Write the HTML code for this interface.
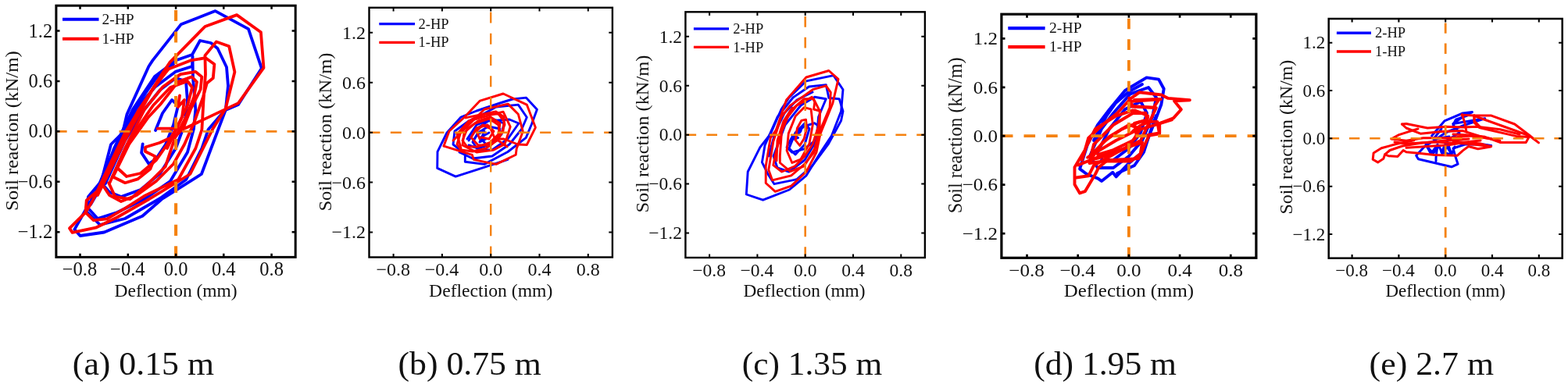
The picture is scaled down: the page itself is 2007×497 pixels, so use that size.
<!DOCTYPE html>
<html lang="en"><head><meta charset="utf-8"><title>Soil reaction vs deflection</title>
<style>html,body{margin:0;padding:0;background:#fff}body{width:2007px;height:497px;overflow:hidden}svg{display:block}text{font-family:"Liberation Serif", "Times New Roman", serif;fill:#111}</style></head><body>
<svg width="2007" height="497" viewBox="0 0 2007 497">
<rect width="2007" height="497" fill="#fff"/>
<g id="panel-a">
<polyline points="95.4,293.9 110.0,268.0 113.0,252.0 129.8,232.0 142.0,185.0 157.0,170.0 162.4,146.6 190.4,85.0 195.4,77.4 231.6,31.3 275.6,14.1 318.0,37.2 334.8,87.4 305.0,134.0 288.7,141.0 279.6,165.0 257.9,223.0 207.2,255.0 182.3,276.7 133.4,297.5 102.6,302.0 95.4,293.9" fill="none" stroke="#0000ff" stroke-width="3.8" stroke-linejoin="round" stroke-linecap="round"/>
<polyline points="110.0,270.0 131.0,232.0 146.0,190.0 170.0,140.0 198.0,98.0 226.0,77.0 246.0,70.0 256.0,52.0 270.0,55.0 278.5,62.0 290.0,86.0 292.0,110.0 288.9,140.0 266.5,166.0 258.4,190.0 238.3,230.0 205.0,254.0 160.0,280.0 128.0,288.0 110.0,270.0" fill="none" stroke="#0000ff" stroke-width="3.8" stroke-linejoin="round" stroke-linecap="round"/>
<polyline points="116.0,262.0 136.0,228.0 152.0,186.0 175.0,138.0 198.8,111.2 224.5,91.9 246.0,85.0 246.5,72.0 247.0,100.0 250.3,140.2 248.0,165.0 240.0,195.0 218.0,232.0 185.0,255.0 150.0,272.0 125.0,280.0 114.0,268.0" fill="none" stroke="#0000ff" stroke-width="3.8" stroke-linejoin="round" stroke-linecap="round"/>
<polyline points="135.0,235.0 160.0,180.0 185.0,140.0 205.0,115.0 225.0,100.0 238.0,104.0 240.0,130.0 236.0,160.0 225.0,190.0 205.0,222.0 180.0,243.0 155.0,252.0 140.0,246.0 133.0,238.0" fill="none" stroke="#0000ff" stroke-width="3.8" stroke-linejoin="round" stroke-linecap="round"/>
<polyline points="182.7,184.3 181.1,195.6 190.7,210.1 200.0,203.0 212.0,185.0 222.0,160.0 228.0,135.0 220.0,128.0 208.0,145.0 199.0,167.0" fill="none" stroke="#0000ff" stroke-width="3.8" stroke-linejoin="round" stroke-linecap="round"/>
<polyline points="111.0,266.0 122.0,248.0 140.0,205.0 160.0,165.0 180.0,128.0 200.0,100.0 222.0,82.0" fill="none" stroke="#0000ff" stroke-width="3.8" stroke-linejoin="round" stroke-linecap="round"/>
<polyline points="201.7,164.7 236.1,164.7 305.0,132.1 337.5,86.8 333.9,41.2 303.1,19.1 262.4,34.0 217.1,80.2 207.2,95.0 160.0,170.0 124.3,245.0 110.7,256.8 109.5,272.2 89.0,292.4 92.6,297.9 122.5,291.7 149.7,278.5 190.9,255.0 243.4,223.0 272.4,165.0 288.7,139.3 300.4,92.2 293.2,59.3 276.9,53.5 262.4,71.1 263.0,95.0 260.4,130.0 258.4,166.0 250.4,190.0 228.2,230.0 185.9,250.4 160.5,266.7 137.0,280.3 119.8,282.1 109.5,272.2" fill="none" stroke="#ff0000" stroke-width="3.8" stroke-linejoin="round" stroke-linecap="round"/>
<polyline points="125.0,250.0 150.0,200.0 170.0,160.0 195.0,115.0 214.9,88.7 243.9,77.4 263.2,74.2 274.4,82.3 272.8,100.0 264.8,106.4 260.0,124.1 248.7,156.3 236.0,185.0 222.0,210.0 200.0,232.0 175.0,250.0 155.0,258.0 140.0,250.0 132.0,238.0" fill="none" stroke="#ff0000" stroke-width="3.8" stroke-linejoin="round" stroke-linecap="round"/>
<polyline points="140.0,235.0 160.0,190.0 185.0,140.0 208.4,111.2 231.0,95.1 250.3,91.9 258.3,98.4 256.7,114.5 243.9,140.2 234.2,165.0 224.5,174.7 211.7,213.3 189.1,235.8 166.6,255.1 147.3,251.9 139.2,234.2" fill="none" stroke="#ff0000" stroke-width="3.8" stroke-linejoin="round" stroke-linecap="round"/>
<polyline points="145.0,226.0 165.0,185.0 190.0,150.0 205.2,133.8 227.8,104.8 245.5,98.4 252.0,105.0 248.0,125.0 238.0,150.0 225.0,175.0 215.0,178.0 204.0,183.0 186.0,188.5 185.9,194.0 198.8,200.4 192.3,216.5 176.2,229.4 160.1,234.2 144.0,226.2" fill="none" stroke="#ff0000" stroke-width="3.8" stroke-linejoin="round" stroke-linecap="round"/>
<polyline points="230.0,122.5 227.8,137.0 236.0,128.0 233.0,150.0 226.0,165.0 214.0,190.0" fill="none" stroke="#ff0000" stroke-width="3.8" stroke-linejoin="round" stroke-linecap="round"/>
<polyline points="150.0,215.0 172.0,170.0 196.0,135.0 218.0,112.0 240.0,104.0 246.0,112.0 240.0,135.0 228.0,160.0 214.0,185.0 200.0,205.0 180.0,222.0 162.0,226.0 150.0,215.0" fill="none" stroke="#ff0000" stroke-width="3.8" stroke-linejoin="round" stroke-linecap="round"/>
<polyline points="109.5,272.2 118.0,258.0 135.0,225.0 155.0,182.0 178.0,140.0 200.0,108.0 216.0,88.0" fill="none" stroke="#ff0000" stroke-width="3.8" stroke-linejoin="round" stroke-linecap="round"/>
<path d="M71.9 168.3 H378.2" stroke="#f5820f" stroke-width="2.7" stroke-dasharray="13.71 13.17" fill="none"/>
<path d="M225.1 329.4 V7.2" stroke="#f5820f" stroke-width="4.1" stroke-dasharray="14.07 13.42" fill="none"/>
<rect x="71.9" y="7.2" width="306.3" height="322.2" fill="none" stroke="#000" stroke-width="3.0"/>
<path d="M102.5 329.4 v-4.6 M102.5 7.2 v4.6 M163.8 329.4 v-4.6 M163.8 7.2 v4.6 M225.1 329.4 v-4.6 M225.1 7.2 v4.6 M286.3 329.4 v-4.6 M286.3 7.2 v4.6 M347.6 329.4 v-4.6 M347.6 7.2 v4.6 M71.9 297.2 h4.6 M378.2 297.2 h-4.6 M71.9 232.7 h4.6 M378.2 232.7 h-4.6 M71.9 168.3 h4.6 M378.2 168.3 h-4.6 M71.9 103.9 h4.6 M378.2 103.9 h-4.6 M71.9 39.4 h4.6 M378.2 39.4 h-4.6" stroke="#000" stroke-width="2.5" fill="none"/>
<text transform="translate(102.0 353.1) scale(1.0 1)" font-size="24.5" text-anchor="middle">−0.8</text>
<text transform="translate(163.3 353.1) scale(1.0 1)" font-size="24.5" text-anchor="middle">−0.4</text>
<text transform="translate(225.1 353.1) scale(1.0 1)" font-size="24.5" text-anchor="middle">0.0</text>
<text transform="translate(286.3 353.1) scale(1.0 1)" font-size="24.5" text-anchor="middle">0.4</text>
<text transform="translate(347.6 353.1) scale(1.0 1)" font-size="24.5" text-anchor="middle">0.8</text>
<text transform="translate(67.2 305.3) scale(1.0 1)" font-size="24.5" text-anchor="end">−1.2</text>
<text transform="translate(67.2 240.8) scale(1.0 1)" font-size="24.5" text-anchor="end">−0.6</text>
<text transform="translate(67.2 176.4) scale(1.0 1)" font-size="24.5" text-anchor="end">0.0</text>
<text transform="translate(67.2 111.9) scale(1.0 1)" font-size="24.5" text-anchor="end">0.6</text>
<text transform="translate(67.2 47.5) scale(1.0 1)" font-size="24.5" text-anchor="end">1.2</text>
<text x="225.1" y="379.8" font-size="24" text-anchor="middle" textLength="157.2" lengthAdjust="spacingAndGlyphs">Deflection (mm)</text>
<text transform="translate(23.4 167.7) rotate(-90) scale(1 1.0)" font-size="24" text-anchor="middle" textLength="204.8" lengthAdjust="spacingAndGlyphs">Soil reaction (kN/m)</text>
<path d="M80.0 24.7 H126.5" stroke="#0000ff" stroke-width="4.1"/>
<path d="M80.0 49.7 H126.5" stroke="#ff0000" stroke-width="4.1"/>
<text transform="translate(130.5 31.1) scale(1.0 1)" font-size="19.5">2-HP</text>
<text transform="translate(130.5 56.1) scale(1.0 1)" font-size="19.5">1-HP</text>
<text x="183.4" y="480.3" font-size="42" text-anchor="middle" textLength="181.1" lengthAdjust="spacingAndGlyphs">(a) 0.15 m</text>
</g>
<g id="panel-b">
<polyline points="650.0,204.3 610.4,217.4 583.2,226.1 559.7,215.4 560.0,194.3 572.0,170.0 590.0,150.0 610.0,142.0 640.0,132.0 656.0,127.0 673.3,125.1 687.4,140.2 680.4,159.3 673.3,176.4 650.0,194.5 620.0,210.4 595.3,207.3 595.3,197.3 580.0,185.0 582.0,168.0 600.0,155.0 615.0,148.0 635.0,137.0 663.3,134.1 674.3,150.2 668.0,165.0 652.0,185.0 630.0,200.0 605.0,203.0 588.0,195.0" fill="none" stroke="#0000ff" stroke-width="2.9" stroke-linejoin="round" stroke-linecap="round"/>
<polyline points="598.0,178.0 610.0,160.0 630.0,152.0 645.0,158.0 642.0,172.0 630.0,184.0 612.0,190.0 600.0,186.0" fill="none" stroke="#0000ff" stroke-width="2.9" stroke-linejoin="round" stroke-linecap="round"/>
<polyline points="606.0,180.0 611.0,172.0 620.0,168.0 614.0,182.0 622.0,178.0" fill="none" stroke="#0000ff" stroke-width="2.9" stroke-linejoin="round" stroke-linecap="round"/>
<polyline points="600.0,180.0 610.0,165.0 625.0,155.0 652.0,153.0 664.0,158.0 650.0,178.0 630.0,192.0 612.0,192.0 605.0,182.0 612.0,170.0 625.0,162.0 640.0,165.0 636.0,180.0 622.0,185.0 615.0,176.0 626.0,170.0" fill="none" stroke="#0000ff" stroke-width="2.9" stroke-linejoin="round" stroke-linecap="round"/>
<polyline points="568.0,187.0 575.0,168.0 594.3,150.2 614.4,129.1 644.1,120.0 674.3,134.1 685.4,163.3 674.3,185.5 663.0,185.0 645.0,178.0 632.0,178.0" fill="none" stroke="#ff0000" stroke-width="2.9" stroke-linejoin="round" stroke-linecap="round"/>
<polyline points="580.0,180.0 600.0,160.0 620.0,140.0 650.2,133.1 663.3,146.2 669.3,168.3 661.2,190.5 660.2,198.3 635.1,210.4 620.0,207.3 606.3,204.3 604.3,198.3 588.2,193.3 568.1,187.2" fill="none" stroke="#ff0000" stroke-width="2.9" stroke-linejoin="round" stroke-linecap="round"/>
<polyline points="585.0,185.0 590.0,168.0 605.0,152.0 622.0,146.0 638.0,146.0 645.0,155.0 644.0,168.0 636.0,180.0 622.0,190.0 605.0,194.0 590.0,192.0 585.0,185.0" fill="none" stroke="#ff0000" stroke-width="2.9" stroke-linejoin="round" stroke-linecap="round"/>
<polyline points="592.0,180.0 598.0,165.0 612.0,155.0 628.0,150.0 640.0,158.0 638.0,172.0 628.0,182.0 612.0,188.0 598.0,188.0 592.0,180.0" fill="none" stroke="#ff0000" stroke-width="2.9" stroke-linejoin="round" stroke-linecap="round"/>
<polyline points="649.2,188.0 633.1,176.7 628.0,165.0 618.0,160.0 610.0,168.0 614.0,178.0" fill="none" stroke="#ff0000" stroke-width="2.9" stroke-linejoin="round" stroke-linecap="round"/>
<polyline points="596.1,150.9 618.6,146.1 634.8,142.9 644.4,149.3 646.0,159.8 641.2,171.9 630.0,180.0" fill="none" stroke="#ff0000" stroke-width="2.9" stroke-linejoin="round" stroke-linecap="round"/>
<polyline points="590.0,190.0 585.0,172.0 600.0,155.0 625.0,148.0 644.1,143.2 653.2,162.3 646.2,184.4 632.0,192.0 610.0,195.0 592.0,186.0 594.0,170.0 608.0,158.0 626.0,152.0 638.0,160.0 640.0,175.0 628.0,186.0 612.0,186.0 603.0,176.0 610.0,164.0 624.0,160.0 632.0,168.0 626.0,178.0 616.0,176.0" fill="none" stroke="#ff0000" stroke-width="2.9" stroke-linejoin="round" stroke-linecap="round"/>
<path d="M472.5 169.7 H783.9" stroke="#f5820f" stroke-width="2.5" stroke-dasharray="13.94 13.39" fill="none"/>
<path d="M628.2 329.5 V9.8" stroke="#f5820f" stroke-width="2.4" stroke-dasharray="13.96 13.32" fill="none"/>
<rect x="472.5" y="9.8" width="311.4" height="319.7" fill="none" stroke="#000" stroke-width="2.4"/>
<path d="M503.6 329.5 v-4.6 M503.6 9.8 v4.6 M565.9 329.5 v-4.6 M565.9 9.8 v4.6 M628.2 329.5 v-4.6 M628.2 9.8 v4.6 M690.5 329.5 v-4.6 M690.5 9.8 v4.6 M752.8 329.5 v-4.6 M752.8 9.8 v4.6 M472.5 297.5 h4.6 M783.9 297.5 h-4.6 M472.5 233.6 h4.6 M783.9 233.6 h-4.6 M472.5 169.7 h4.6 M783.9 169.7 h-4.6 M472.5 105.7 h4.6 M783.9 105.7 h-4.6 M472.5 41.8 h4.6 M783.9 41.8 h-4.6" stroke="#000" stroke-width="2.0" fill="none"/>
<text transform="translate(503.2 353.2) scale(1.0 1)" font-size="24" text-anchor="middle">−0.8</text>
<text transform="translate(565.4 353.2) scale(1.0 1)" font-size="24" text-anchor="middle">−0.4</text>
<text transform="translate(628.2 353.2) scale(1.0 1)" font-size="24" text-anchor="middle">0.0</text>
<text transform="translate(690.5 353.2) scale(1.0 1)" font-size="24" text-anchor="middle">0.4</text>
<text transform="translate(752.8 353.2) scale(1.0 1)" font-size="24" text-anchor="middle">0.8</text>
<text transform="translate(468.1 305.4) scale(1.0 1)" font-size="24" text-anchor="end">−1.2</text>
<text transform="translate(468.1 241.5) scale(1.0 1)" font-size="24" text-anchor="end">−0.6</text>
<text transform="translate(468.1 177.6) scale(1.0 1)" font-size="24" text-anchor="end">0.0</text>
<text transform="translate(468.1 113.6) scale(1.0 1)" font-size="24" text-anchor="end">0.6</text>
<text transform="translate(468.1 49.7) scale(1.0 1)" font-size="24" text-anchor="end">1.2</text>
<text x="628.2" y="379.8" font-size="24" text-anchor="middle" textLength="158.2" lengthAdjust="spacingAndGlyphs">Deflection (mm)</text>
<text transform="translate(424.1 169.1) rotate(-90) scale(1 1.0)" font-size="24" text-anchor="middle" textLength="203.0" lengthAdjust="spacingAndGlyphs">Soil reaction (kN/m)</text>
<path d="M485.3 30.6 H531.0" stroke="#0000ff" stroke-width="3.2"/>
<path d="M485.3 54.3 H531.0" stroke="#ff0000" stroke-width="3.2"/>
<text transform="translate(535.6 36.7) scale(1.0 1)" font-size="18.5">2-HP</text>
<text transform="translate(535.6 60.4) scale(1.0 1)" font-size="18.5">1-HP</text>
<text x="601.2" y="480.3" font-size="42" text-anchor="middle" textLength="183.3" lengthAdjust="spacingAndGlyphs">(b) 0.75 m</text>
</g>
<g id="panel-c">
<polyline points="986.2,171.7 1000.0,140.0 1010.0,125.0 1031.9,103.8 1066.9,96.6 1079.0,114.7 1076.6,142.4 1064.5,173.8 1051.4,193.5 1032.1,224.8 1010.4,243.0 976.6,256.2 955.3,249.0 957.2,220.0 972.9,188.6 986.2,171.7" fill="none" stroke="#0000ff" stroke-width="2.9" stroke-linejoin="round" stroke-linecap="round"/>
<polyline points="979.0,186.2 995.0,150.0 1015.0,125.0 1035.5,111.0 1057.3,108.6 1060.9,125.5 1074.2,126.7 1079.0,142.4 1076.6,154.5 1060.0,185.0 1040.0,212.0 1020.0,229.7 991.0,235.7 982.6,222.4 975.4,207.9 979.0,186.2" fill="none" stroke="#0000ff" stroke-width="2.9" stroke-linejoin="round" stroke-linecap="round"/>
<polyline points="990.0,200.0 1005.0,160.0 1025.0,135.0 1042.8,124.3 1057.3,126.7 1047.6,149.7 1045.0,180.0 1030.0,205.0 1010.0,220.0 995.0,215.0 990.0,200.0" fill="none" stroke="#0000ff" stroke-width="2.9" stroke-linejoin="round" stroke-linecap="round"/>
<polyline points="1007.1,188.6 1013.8,175.3 1029.2,162.0 1042.5,157.6 1051.4,164.2 1046.9,177.5 1029.2,190.8 1013.8,195.2 1007.1,188.6" fill="none" stroke="#0000ff" stroke-width="2.9" stroke-linejoin="round" stroke-linecap="round"/>
<polyline points="1010.0,190.0 1018.0,170.0 1030.0,158.0 1036.0,165.0 1030.0,185.0 1018.0,198.0 1010.0,190.0" fill="none" stroke="#0000ff" stroke-width="2.9" stroke-linejoin="round" stroke-linecap="round"/>
<polyline points="984.0,200.0 992.0,170.0 1004.0,145.0 1020.0,128.0 1040.0,118.0" fill="none" stroke="#0000ff" stroke-width="2.9" stroke-linejoin="round" stroke-linecap="round"/>
<polyline points="1020.5,166.0 1026.0,164.0 1025.0,168.0 1016.0,178.0 1021.5,176.5" fill="none" stroke="#0000ff" stroke-width="2.9" stroke-linejoin="round" stroke-linecap="round"/>
<polyline points="986.2,176.6 993.3,166.6 1006.6,127.9 1031.9,99.0 1060.9,90.5 1073.0,101.4 1065.7,132.8 1050.0,171.4 1045.0,195.0 1032.1,220.0 1012.8,238.1 992.3,245.4 980.2,234.5 980.2,212.8 986.2,176.6" fill="none" stroke="#ff0000" stroke-width="2.9" stroke-linejoin="round" stroke-linecap="round"/>
<polyline points="989.8,181.4 1000.0,150.0 1011.4,135.2 1040.4,114.7 1057.3,109.8 1063.3,118.3 1062.1,137.6 1050.0,166.6 1042.0,195.0 1029.7,210.4 1012.8,224.8 988.6,230.9 983.8,217.6 989.8,181.4" fill="none" stroke="#ff0000" stroke-width="2.9" stroke-linejoin="round" stroke-linecap="round"/>
<polyline points="992.3,198.3 1000.0,170.0 1006.6,152.1 1019.8,135.2 1039.2,124.3 1042.8,130.4 1041.6,140.0 1050.0,142.4 1047.6,161.7 1040.0,185.0 1030.0,200.0 1017.6,212.8 1000.7,220.0 989.8,211.6 992.3,198.3" fill="none" stroke="#ff0000" stroke-width="2.9" stroke-linejoin="round" stroke-linecap="round"/>
<polyline points="998.3,199.6 1000.5,168.7 1011.5,142.1 1029.2,126.6 1041.4,126.6 1049.2,142.1 1049.2,164.2 1042.5,190.8 1029.2,212.9 1011.5,219.6 998.3,208.5 998.3,199.6" fill="none" stroke="#ff0000" stroke-width="2.9" stroke-linejoin="round" stroke-linecap="round"/>
<polyline points="1007.1,193.0 1009.3,170.9 1018.2,148.8 1029.2,137.7 1038.1,139.9 1040.3,159.8 1035.9,184.2 1024.8,204.1 1013.8,208.5 1007.1,193.0" fill="none" stroke="#ff0000" stroke-width="2.9" stroke-linejoin="round" stroke-linecap="round"/>
<polyline points="1018.2,179.7 1020.4,164.2 1025.9,154.3 1031.5,153.2 1032.6,164.2 1029.2,177.5 1023.7,186.4 1018.2,179.7" fill="none" stroke="#ff0000" stroke-width="2.9" stroke-linejoin="round" stroke-linecap="round"/>
<polyline points="994.0,206.0 995.0,180.0 1003.0,155.0 1014.0,138.0" fill="none" stroke="#ff0000" stroke-width="2.9" stroke-linejoin="round" stroke-linecap="round"/>
<path d="M877.4 172.7 H1183.9" stroke="#f5820f" stroke-width="2.5" stroke-dasharray="13.72 13.18" fill="none"/>
<path d="M1030.7 330.0 V15.3" stroke="#f5820f" stroke-width="2.6" stroke-dasharray="13.74 13.11" fill="none"/>
<rect x="877.4" y="15.3" width="306.5" height="314.7" fill="none" stroke="#000" stroke-width="2.4"/>
<path d="M908.1 330.0 v-4.6 M908.1 15.3 v4.6 M969.4 330.0 v-4.6 M969.4 15.3 v4.6 M1030.7 330.0 v-4.6 M1030.7 15.3 v4.6 M1092.0 330.0 v-4.6 M1092.0 15.3 v4.6 M1153.3 330.0 v-4.6 M1153.3 15.3 v4.6 M877.4 298.5 h4.6 M1183.9 298.5 h-4.6 M877.4 235.6 h4.6 M1183.9 235.6 h-4.6 M877.4 172.7 h4.6 M1183.9 172.7 h-4.6 M877.4 109.7 h4.6 M1183.9 109.7 h-4.6 M877.4 46.8 h4.6 M1183.9 46.8 h-4.6" stroke="#000" stroke-width="2.0" fill="none"/>
<text transform="translate(907.6 353.7) scale(1.0 1)" font-size="23.5" text-anchor="middle">−0.8</text>
<text transform="translate(968.9 353.7) scale(1.0 1)" font-size="23.5" text-anchor="middle">−0.4</text>
<text transform="translate(1030.7 353.7) scale(1.0 1)" font-size="23.5" text-anchor="middle">0.0</text>
<text transform="translate(1092.0 353.7) scale(1.0 1)" font-size="23.5" text-anchor="middle">0.4</text>
<text transform="translate(1153.3 353.7) scale(1.0 1)" font-size="23.5" text-anchor="middle">0.8</text>
<text transform="translate(873.0 306.3) scale(1.0 1)" font-size="23.5" text-anchor="end">−1.2</text>
<text transform="translate(873.0 243.3) scale(1.0 1)" font-size="23.5" text-anchor="end">−0.6</text>
<text transform="translate(873.0 180.4) scale(1.0 1)" font-size="23.5" text-anchor="end">0.0</text>
<text transform="translate(873.0 117.5) scale(1.0 1)" font-size="23.5" text-anchor="end">0.6</text>
<text transform="translate(873.0 54.5) scale(1.0 1)" font-size="23.5" text-anchor="end">1.2</text>
<text x="1029.5" y="379.8" font-size="24" text-anchor="middle" textLength="156.1" lengthAdjust="spacingAndGlyphs">Deflection (mm)</text>
<text transform="translate(829.5 171.6) rotate(-90) scale(1 1.0)" font-size="24" text-anchor="middle" textLength="201.8" lengthAdjust="spacingAndGlyphs">Soil reaction (kN/m)</text>
<path d="M887.9 36.8 H933.0" stroke="#0000ff" stroke-width="3.2"/>
<path d="M887.9 60.4 H933.0" stroke="#ff0000" stroke-width="3.2"/>
<text transform="translate(938.2 42.9) scale(1.0 1)" font-size="18.5">2-HP</text>
<text transform="translate(938.2 66.5) scale(1.0 1)" font-size="18.5">1-HP</text>
<text x="1039.5" y="480.3" font-size="42" text-anchor="middle" textLength="179.3" lengthAdjust="spacingAndGlyphs">(c) 1.35 m</text>
</g>
<g id="panel-d">
<polyline points="1382.1,216.4 1392.0,185.0 1405.0,160.0 1420.0,140.3 1440.0,116.0 1467.6,99.4 1483.1,101.6 1489.7,113.8 1486.4,133.7 1479.8,151.4 1470.9,173.5 1462.0,195.0 1444.1,209.8 1428.6,226.4 1424.2,220.8 1410.0,232.0 1405.4,228.6 1391.0,223.0 1382.1,216.4" fill="none" stroke="#0000ff" stroke-width="3.9" stroke-linejoin="round" stroke-linecap="round"/>
<polyline points="1395.0,200.0 1410.0,165.0 1425.0,145.0 1446.6,120.4 1470.0,112.0 1480.0,125.0 1475.0,150.0 1462.0,180.0 1445.0,200.0 1425.0,215.0 1405.0,215.0 1395.0,200.0" fill="none" stroke="#0000ff" stroke-width="3.9" stroke-linejoin="round" stroke-linecap="round"/>
<polyline points="1405.0,195.0 1420.0,165.0 1440.0,140.0 1460.0,130.0 1468.0,145.0 1460.0,170.0 1445.0,190.0 1425.0,205.0 1410.0,205.0" fill="none" stroke="#0000ff" stroke-width="3.9" stroke-linejoin="round" stroke-linecap="round"/>
<polyline points="1400.0,180.0 1416.2,148.6 1428.3,131.7 1445.2,117.2 1462.0,108.0" fill="none" stroke="#0000ff" stroke-width="3.9" stroke-linejoin="round" stroke-linecap="round"/>
<polyline points="1430.0,222.0 1452.0,212.0 1464.0,195.0 1472.0,170.0 1480.0,148.0" fill="none" stroke="#0000ff" stroke-width="3.9" stroke-linejoin="round" stroke-linecap="round"/>
<polyline points="1388.8,192.0 1375.5,214.2 1375.5,236.3 1382.1,247.4 1388.8,245.2 1402.0,223.0 1406.5,214.2 1417.5,205.3 1457.4,203.1 1466.2,183.2 1470.9,173.5 1484.2,171.3 1484.2,158.0 1501.9,151.4 1511.9,140.3 1503.0,129.3 1522.9,128.2 1495.3,125.9 1486.4,121.5 1458.7,118.2 1447.7,125.9 1430.0,145.0 1415.3,156.6 1393.2,176.6 1388.8,192.0" fill="none" stroke="#ff0000" stroke-width="3.9" stroke-linejoin="round" stroke-linecap="round"/>
<polyline points="1377.7,227.5 1393.2,225.3 1400.0,212.0 1430.0,195.0 1460.0,180.0 1479.8,138.1 1450.0,136.0 1447.0,130.0 1486.0,127.0" fill="none" stroke="#ff0000" stroke-width="3.9" stroke-linejoin="round" stroke-linecap="round"/>
<polyline points="1395.0,205.0 1400.0,185.0 1425.0,160.0 1450.0,145.0 1466.5,144.8 1467.6,153.6 1452.0,158.0 1455.0,175.0 1440.0,190.0 1415.0,200.0 1395.0,205.0" fill="none" stroke="#ff0000" stroke-width="3.9" stroke-linejoin="round" stroke-linecap="round"/>
<polyline points="1400.0,195.0 1420.0,175.0 1445.0,160.0 1460.0,165.0 1450.0,180.0 1425.0,192.0 1405.0,198.0" fill="none" stroke="#ff0000" stroke-width="3.9" stroke-linejoin="round" stroke-linecap="round"/>
<polyline points="1445.2,125.7 1448.8,136.6 1476.6,137.8 1483.8,126.9 1452.0,128.0" fill="none" stroke="#ff0000" stroke-width="3.9" stroke-linejoin="round" stroke-linecap="round"/>
<polyline points="1452.4,141.4 1464.5,146.2 1469.3,148.6 1468.1,157.1 1459.7,160.7 1450.0,168.0" fill="none" stroke="#ff0000" stroke-width="3.9" stroke-linejoin="round" stroke-linecap="round"/>
<polyline points="1385.0,205.0 1389.7,189.7 1401.7,165.5 1428.3,148.6 1450.0,141.4" fill="none" stroke="#ff0000" stroke-width="3.9" stroke-linejoin="round" stroke-linecap="round"/>
<polyline points="1394.5,206.6 1411.4,182.4 1435.5,165.5 1459.7,155.9 1481.4,155.9 1483.8,170.4 1469.3,172.8" fill="none" stroke="#ff0000" stroke-width="3.9" stroke-linejoin="round" stroke-linecap="round"/>
<polyline points="1380.0,211.4 1404.1,201.7 1440.4,189.7 1462.1,182.4 1459.7,196.9 1447.6,206.6 1411.4,206.6 1394.5,209.0" fill="none" stroke="#ff0000" stroke-width="3.9" stroke-linejoin="round" stroke-linecap="round"/>
<polyline points="1392.1,201.7 1428.3,180.0 1452.4,167.9 1483.8,158.3 1500.0,153.5" fill="none" stroke="#ff0000" stroke-width="3.9" stroke-linejoin="round" stroke-linecap="round"/>
<path d="M1281.9 174.2 H1607.9" stroke="#f5820f" stroke-width="3.8" stroke-dasharray="14.59 14.02" fill="none"/>
<path d="M1444.9 330.3 V18.2" stroke="#f5820f" stroke-width="3.8" stroke-dasharray="13.63 13.00" fill="none"/>
<rect x="1281.9" y="18.2" width="326.0" height="312.1" fill="none" stroke="#000" stroke-width="3.2"/>
<path d="M1314.5 330.3 v-4.6 M1314.5 18.2 v4.6 M1379.7 330.3 v-4.6 M1379.7 18.2 v4.6 M1444.9 330.3 v-4.6 M1444.9 18.2 v4.6 M1510.1 330.3 v-4.6 M1510.1 18.2 v4.6 M1575.3 330.3 v-4.6 M1575.3 18.2 v4.6 M1281.9 299.1 h4.6 M1607.9 299.1 h-4.6 M1281.9 236.7 h4.6 M1607.9 236.7 h-4.6 M1281.9 174.2 h4.6 M1607.9 174.2 h-4.6 M1281.9 111.8 h4.6 M1607.9 111.8 h-4.6 M1281.9 49.4 h4.6 M1607.9 49.4 h-4.6" stroke="#000" stroke-width="2.7" fill="none"/>
<text transform="translate(1314.0 354.0) scale(1.065 1)" font-size="23.5" text-anchor="middle">−0.8</text>
<text transform="translate(1379.2 354.0) scale(1.065 1)" font-size="23.5" text-anchor="middle">−0.4</text>
<text transform="translate(1444.9 354.0) scale(1.065 1)" font-size="23.5" text-anchor="middle">0.0</text>
<text transform="translate(1510.1 354.0) scale(1.065 1)" font-size="23.5" text-anchor="middle">0.4</text>
<text transform="translate(1575.3 354.0) scale(1.065 1)" font-size="23.5" text-anchor="middle">0.8</text>
<text transform="translate(1277.1 306.8) scale(1.065 1)" font-size="23.5" text-anchor="end">−1.2</text>
<text transform="translate(1277.1 244.4) scale(1.065 1)" font-size="23.5" text-anchor="end">−0.6</text>
<text transform="translate(1277.1 182.0) scale(1.065 1)" font-size="23.5" text-anchor="end">0.0</text>
<text transform="translate(1277.1 119.6) scale(1.065 1)" font-size="23.5" text-anchor="end">0.6</text>
<text transform="translate(1277.1 57.2) scale(1.065 1)" font-size="23.5" text-anchor="end">1.2</text>
<text x="1444.9" y="379.8" font-size="24" text-anchor="middle" textLength="166.4" lengthAdjust="spacingAndGlyphs">Deflection (mm)</text>
<text transform="translate(1230.7 173.4) rotate(-90) scale(1 1.065)" font-size="24" text-anchor="middle" textLength="199.7" lengthAdjust="spacingAndGlyphs">Soil reaction (kN/m)</text>
<path d="M1290.3 36.2 H1337.6" stroke="#0000ff" stroke-width="4.2"/>
<path d="M1290.3 60.2 H1337.6" stroke="#ff0000" stroke-width="4.2"/>
<text transform="translate(1343.0 42.3) scale(1.065 1)" font-size="18.5">2-HP</text>
<text transform="translate(1343.0 66.3) scale(1.065 1)" font-size="18.5">1-HP</text>
<text x="1414.6" y="480.3" font-size="42" text-anchor="middle" textLength="182.8" lengthAdjust="spacingAndGlyphs">(d) 1.95 m</text>
</g>
<g id="panel-e">
<polyline points="1832.6,173.9 1848.9,154.9 1872.4,145.0 1884.4,143.6 1872.0,150.0 1859.8,158.5 1900.7,151.7 1875.0,160.0 1850.0,170.0 1836.0,180.0 1823.5,187.5 1812.7,199.3 1815.4,203.8 1857.9,213.8 1866.1,210.2 1862.5,199.3 1860.0,190.0 1875.0,185.0 1898.9,185.0 1908.7,186.6" fill="none" stroke="#0000ff" stroke-width="3.0" stroke-linejoin="round" stroke-linecap="round"/>
<polyline points="1825.0,185.0 1831.5,197.0 1840.0,185.0 1838.0,202.0 1838.0,206.5" fill="none" stroke="#0000ff" stroke-width="3.0" stroke-linejoin="round" stroke-linecap="round"/>
<polyline points="1827.0,188.0 1834.4,196.6 1842.0,187.0 1846.0,197.0 1852.0,188.0 1858.0,197.5 1862.0,188.0" fill="none" stroke="#0000ff" stroke-width="3.0" stroke-linejoin="round" stroke-linecap="round"/>
<polyline points="1845.0,165.0 1835.0,178.0 1855.0,175.0 1845.0,195.0 1858.0,198.0 1852.0,180.0 1868.0,170.0 1860.0,160.0 1863.4,153.1 1878.0,148.0" fill="none" stroke="#0000ff" stroke-width="3.0" stroke-linejoin="round" stroke-linecap="round"/>
<polyline points="1870.8,147.2 1887.1,148.1 1908.9,148.1 1938.7,159.0 1957.8,173.5 1969.5,182.9 1957.8,174.0 1953.2,182.5 1920.6,182.5 1900.7,175.3 1880.0,173.0 1860.0,172.0" fill="none" stroke="#ff0000" stroke-width="3.0" stroke-linejoin="round" stroke-linecap="round"/>
<polyline points="1887.1,148.1 1887.1,157.2 1893.5,163.5 1940.5,174.4 1957.0,175.5" fill="none" stroke="#ff0000" stroke-width="3.0" stroke-linejoin="round" stroke-linecap="round"/>
<polyline points="1887.1,148.5 1958.0,174.0" fill="none" stroke="#ff0000" stroke-width="3.0" stroke-linejoin="round" stroke-linecap="round"/>
<polyline points="1871.5,146.8 1875.2,158.5 1877.0,169.0" fill="none" stroke="#ff0000" stroke-width="3.0" stroke-linejoin="round" stroke-linecap="round"/>
<polyline points="1886.9,147.7 1886.9,154.9 1894.2,162.2" fill="none" stroke="#ff0000" stroke-width="3.0" stroke-linejoin="round" stroke-linecap="round"/>
<polyline points="1794.4,159.0 1800.0,158.5 1827.2,164.0 1850.7,162.2 1872.4,163.1 1890.5,162.2 1920.0,165.8 1945.0,172.0" fill="none" stroke="#ff0000" stroke-width="3.0" stroke-linejoin="round" stroke-linecap="round"/>
<polyline points="1794.4,159.0 1800.0,164.0 1818.1,171.2 1845.3,168.5 1872.4,167.6 1901.4,176.7 1920.0,180.0" fill="none" stroke="#ff0000" stroke-width="3.0" stroke-linejoin="round" stroke-linecap="round"/>
<polyline points="1815.0,165.0 1802.5,168.9 1790.7,172.6 1780.8,178.0 1800.0,180.3 1821.7,176.7 1854.3,176.7 1881.5,173.9 1908.7,177.6" fill="none" stroke="#ff0000" stroke-width="3.0" stroke-linejoin="round" stroke-linecap="round"/>
<polyline points="1785.0,182.0 1800.0,183.9 1836.2,182.1 1876.1,183.9 1908.7,187.5" fill="none" stroke="#ff0000" stroke-width="3.0" stroke-linejoin="round" stroke-linecap="round"/>
<polyline points="1800.0,189.3 1827.2,187.5 1854.3,185.7 1876.1,182.1 1895.0,180.0" fill="none" stroke="#ff0000" stroke-width="3.0" stroke-linejoin="round" stroke-linecap="round"/>
<polyline points="1809.8,179.8 1788.0,184.3 1768.1,189.8 1758.1,196.1 1757.2,204.2 1763.6,207.9 1770.8,203.3 1772.6,197.9 1779.0,192.5 1795.0,187.0 1820.0,183.0 1850.0,180.0 1880.0,178.0" fill="none" stroke="#ff0000" stroke-width="3.0" stroke-linejoin="round" stroke-linecap="round"/>
<polyline points="1772.6,197.9 1777.2,199.7 1788.9,200.6 1796.2,192.5 1800.0,194.8 1818.1,196.6 1836.2,198.4 1865.2,199.3 1872.4,192.9 1879.7,187.5 1891.7,190.7 1907.9,187.9 1895.0,184.0 1860.0,181.0" fill="none" stroke="#ff0000" stroke-width="3.0" stroke-linejoin="round" stroke-linecap="round"/>
<path d="M1700.7 177.3 H1999.7" stroke="#f5820f" stroke-width="2.5" stroke-dasharray="13.38 12.86" fill="none"/>
<path d="M1850.2 330.7 V24.0" stroke="#f5820f" stroke-width="2.8" stroke-dasharray="13.39 12.78" fill="none"/>
<rect x="1700.7" y="24.0" width="299.0" height="306.7" fill="none" stroke="#000" stroke-width="2.5"/>
<path d="M1730.6 330.7 v-4.6 M1730.6 24.0 v4.6 M1790.4 330.7 v-4.6 M1790.4 24.0 v4.6 M1850.2 330.7 v-4.6 M1850.2 24.0 v4.6 M1910.0 330.7 v-4.6 M1910.0 24.0 v4.6 M1969.8 330.7 v-4.6 M1969.8 24.0 v4.6 M1700.7 300.0 h4.6 M1999.7 300.0 h-4.6 M1700.7 238.7 h4.6 M1999.7 238.7 h-4.6 M1700.7 177.3 h4.6 M1999.7 177.3 h-4.6 M1700.7 116.0 h4.6 M1999.7 116.0 h-4.6 M1700.7 54.7 h4.6 M1999.7 54.7 h-4.6" stroke="#000" stroke-width="2.1" fill="none"/>
<text transform="translate(1730.1 354.4) scale(1.0 1)" font-size="23" text-anchor="middle">−0.8</text>
<text transform="translate(1789.9 354.4) scale(1.0 1)" font-size="23" text-anchor="middle">−0.4</text>
<text transform="translate(1850.2 354.4) scale(1.0 1)" font-size="23" text-anchor="middle">0.0</text>
<text transform="translate(1910.0 354.4) scale(1.0 1)" font-size="23" text-anchor="middle">0.4</text>
<text transform="translate(1969.8 354.4) scale(1.0 1)" font-size="23" text-anchor="middle">0.8</text>
<text transform="translate(1696.2 307.6) scale(1.0 1)" font-size="23" text-anchor="end">−1.2</text>
<text transform="translate(1696.2 246.3) scale(1.0 1)" font-size="23" text-anchor="end">−0.6</text>
<text transform="translate(1696.2 184.9) scale(1.0 1)" font-size="23" text-anchor="end">0.0</text>
<text transform="translate(1696.2 123.6) scale(1.0 1)" font-size="23" text-anchor="end">0.6</text>
<text transform="translate(1696.2 62.3) scale(1.0 1)" font-size="23" text-anchor="end">1.2</text>
<text x="1850.2" y="379.8" font-size="24" text-anchor="middle" textLength="153.6" lengthAdjust="spacingAndGlyphs">Deflection (mm)</text>
<text transform="translate(1653.5 175.6) rotate(-90) scale(1 1.0)" font-size="24" text-anchor="middle" textLength="197.8" lengthAdjust="spacingAndGlyphs">Soil reaction (kN/m)</text>
<path d="M1710.9 42.3 H1755.0" stroke="#0000ff" stroke-width="3.4"/>
<path d="M1710.9 66.0 H1755.0" stroke="#ff0000" stroke-width="3.4"/>
<text transform="translate(1760.0 48.4) scale(1.0 1)" font-size="18.5">2-HP</text>
<text transform="translate(1760.0 72.1) scale(1.0 1)" font-size="18.5">1-HP</text>
<text x="1832.3" y="480.3" font-size="42" text-anchor="middle" textLength="159.4" lengthAdjust="spacingAndGlyphs">(e) 2.7 m</text>
</g>
</svg></body></html>
